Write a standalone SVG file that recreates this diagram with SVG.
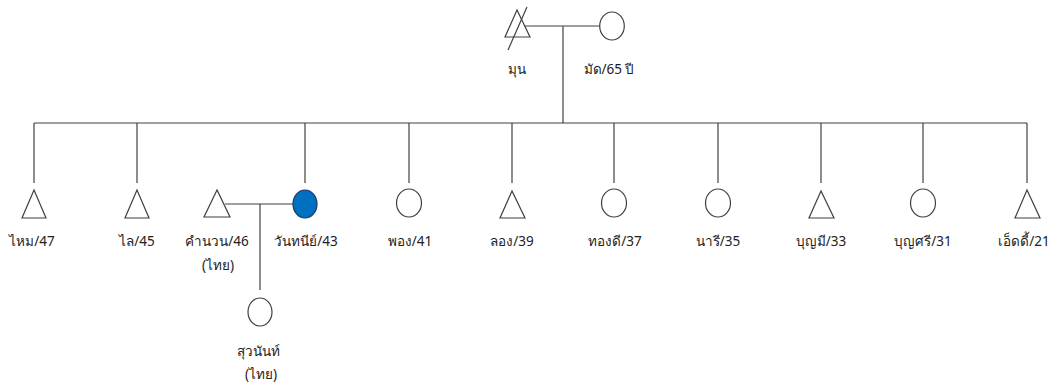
<svg xmlns="http://www.w3.org/2000/svg" width="1058" height="385" viewBox="0 0 1058 385">
<style>
.ln{stroke:#404040;stroke-width:1.2;fill:none}
.m{fill:#fff;stroke:#404040;stroke-width:1.2}
.f{fill:#fff;stroke:#404040;stroke-width:1.2}
.p{fill:#0070C0;stroke:#1f3864;stroke-width:1.2}
text{font-family:"Noto Sans","DejaVu Sans",sans-serif;font-size:13.5px;fill:#222;text-anchor:middle}
</style>
<rect width="1058" height="385" fill="#fff"/>
<g id="connectors">
<line class="ln" x1="523" y1="26" x2="600" y2="26"/>
<line class="ln" x1="563" y1="26" x2="563" y2="123"/>
<line class="ln" x1="34" y1="123" x2="1027" y2="123"/>
<line class="ln" x1="34" y1="123" x2="34" y2="183"/>
<line class="ln" x1="137" y1="123" x2="137" y2="183"/>
<line class="ln" x1="305" y1="123" x2="305" y2="183"/>
<line class="ln" x1="409" y1="123" x2="409" y2="183"/>
<line class="ln" x1="512" y1="123" x2="512" y2="183"/>
<line class="ln" x1="614" y1="123" x2="614" y2="183"/>
<line class="ln" x1="718" y1="123" x2="718" y2="183"/>
<line class="ln" x1="821" y1="123" x2="821" y2="183"/>
<line class="ln" x1="923" y1="123" x2="923" y2="183"/>
<line class="ln" x1="1027" y1="123" x2="1027" y2="183"/>
<line class="ln" x1="225" y1="204" x2="293" y2="204"/>
<line class="ln" x1="260" y1="204" x2="260" y2="290"/>
</g>
<g id="mun">
<polygon class="m" points="517,10 505,37 530,37"/>
<line class="ln" x1="508" y1="50" x2="527" y2="7"/>
<text x="517" y="74">มุน</text>
</g>
<g id="mat">
<ellipse class="f" cx="612" cy="26" rx="12.3" ry="14"/>
<text x="609" y="74">มัด/65 ปี</text>
</g>
<g id="mai">
<polygon class="m" points="34,190 22,218 46,218"/>
<text x="32" y="246">ไหม/47</text>
</g>
<g id="lai">
<polygon class="m" points="137,190 125,218 149,218"/>
<text x="137" y="246">ไล/45</text>
</g>
<g id="khamnuan">
<polygon class="m" points="217,190 204,217 230,217"/>
<text x="217" y="246">คำนวน/46</text>
<text x="218" y="270">(ไทย)</text>
</g>
<g id="wanthanee">
<ellipse class="p" cx="305" cy="204" rx="12" ry="14"/>
<text x="306" y="246">วันทนีย์/43</text>
</g>
<g id="suwanan">
<ellipse class="f" cx="260" cy="312" rx="12" ry="14"/>
<text x="258" y="356">สุวนันท์</text>
<text x="261" y="379">(ไทย)</text>
</g>
<g id="phong">
<ellipse class="f" cx="409" cy="203" rx="12.5" ry="14"/>
<text x="410" y="246">พอง/41</text>
</g>
<g id="long">
<polygon class="m" points="512,191 500,218 525,218"/>
<text x="512" y="246">ลอง/39</text>
</g>
<g id="thongdee">
<ellipse class="f" cx="614" cy="203" rx="12.5" ry="14"/>
<text x="615" y="246">ทองดี/37</text>
</g>
<g id="naree">
<ellipse class="f" cx="718" cy="203" rx="12.5" ry="14"/>
<text x="718" y="246">นารี/35</text>
</g>
<g id="boonmee">
<polygon class="m" points="821,191 809,218 834,218"/>
<text x="821" y="246">บุญมี/33</text>
</g>
<g id="boonsri">
<ellipse class="f" cx="923" cy="203" rx="12.5" ry="14"/>
<text x="923" y="246">บุญศรี/31</text>
</g>
<g id="eddy">
<polygon class="m" points="1027,190 1015,218 1040,218"/>
<text x="1024" y="246">เอ็ดดี้/21</text>
</g>
</svg>
